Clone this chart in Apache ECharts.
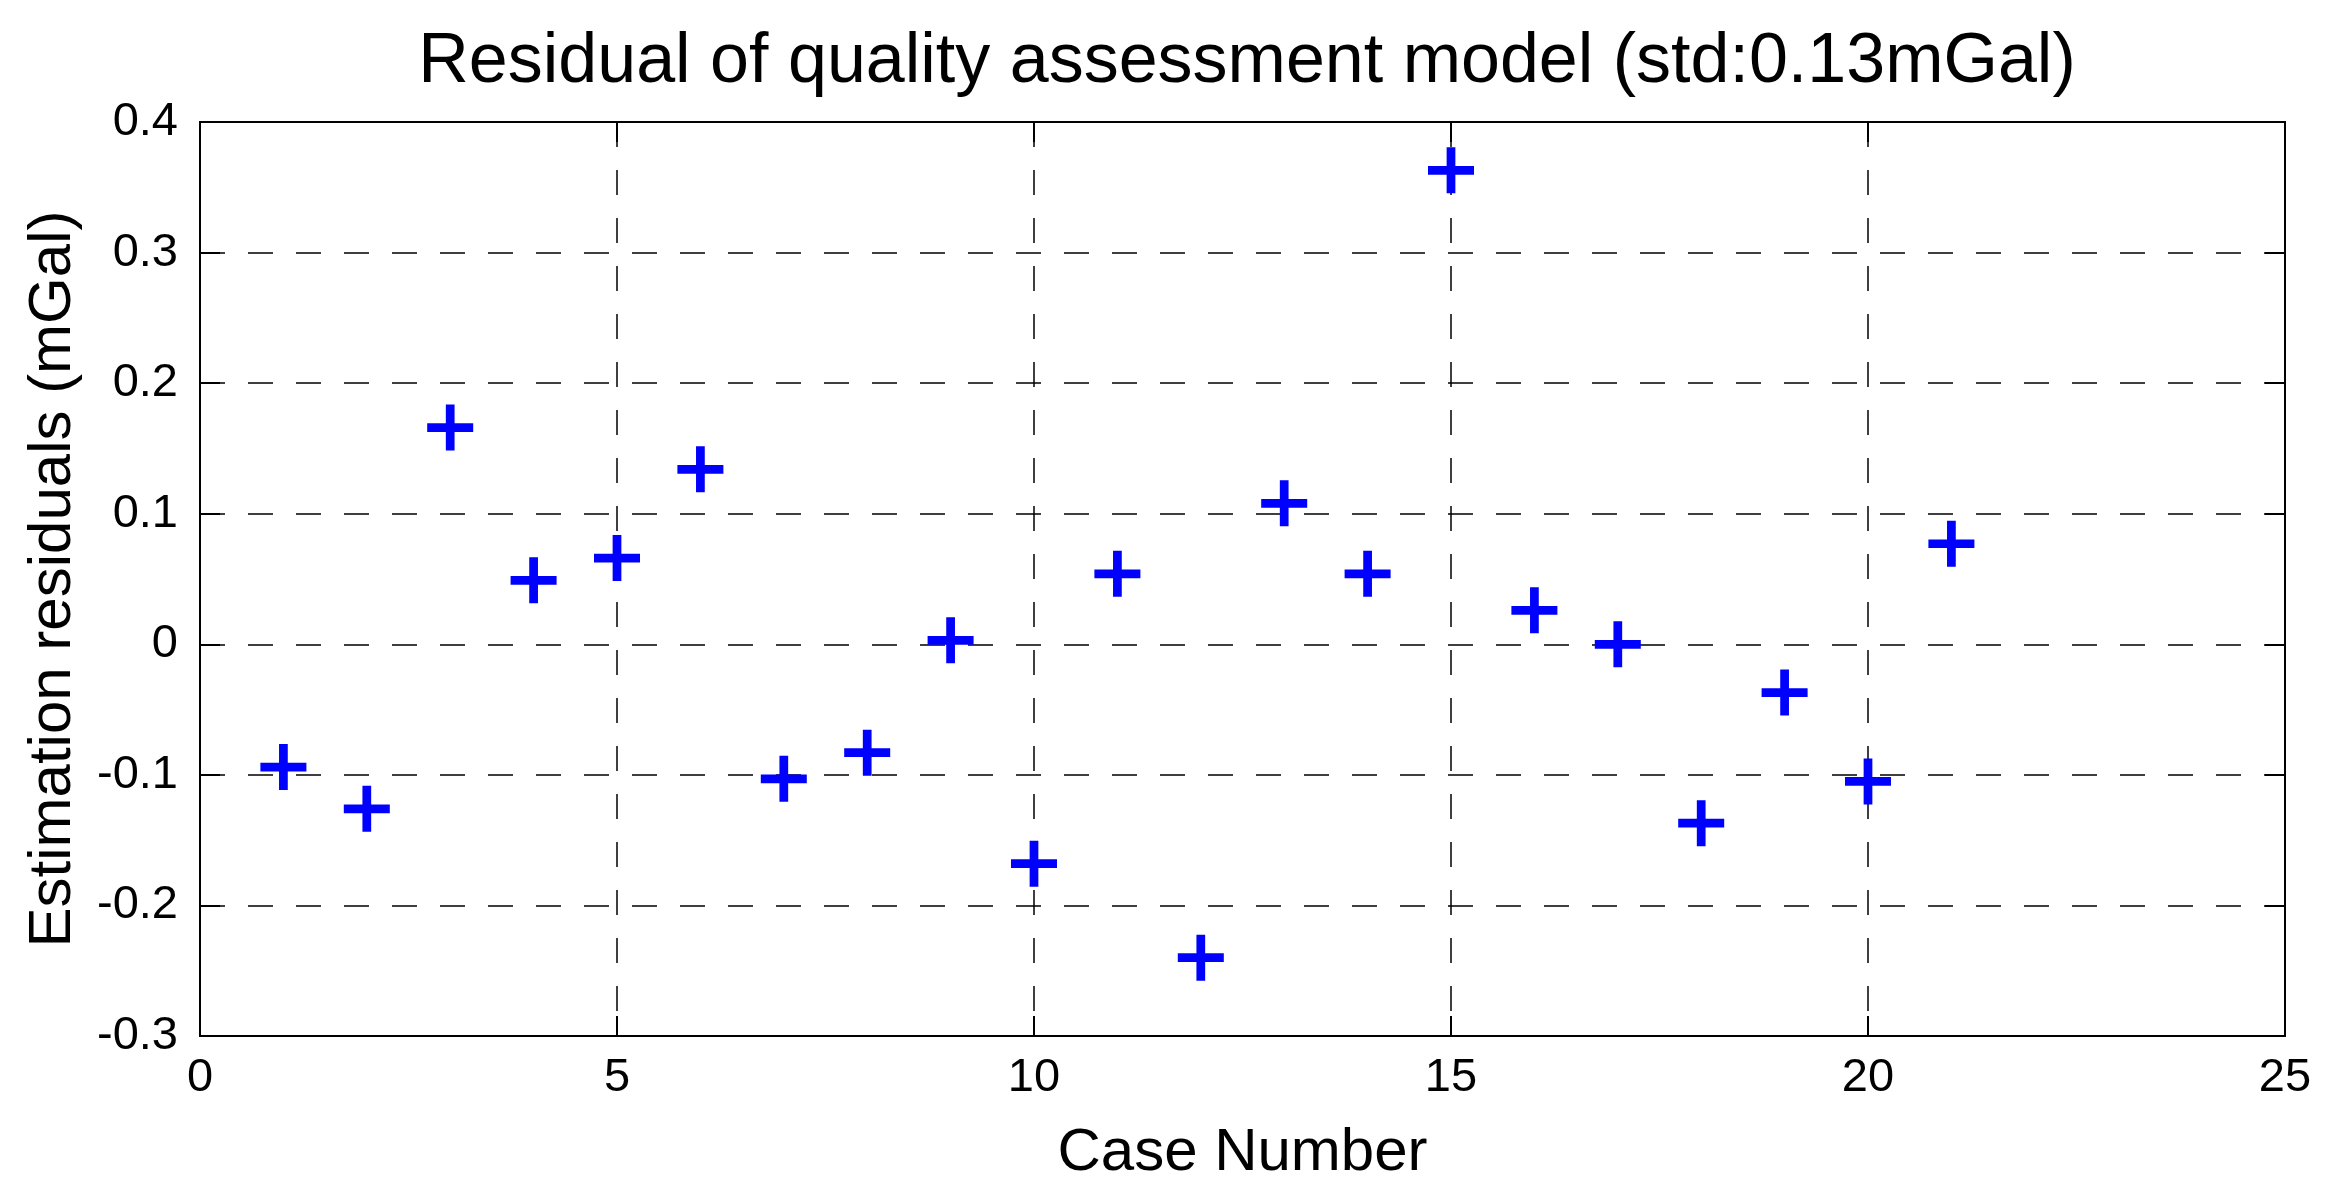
<!DOCTYPE html>
<html>
<head>
<meta charset="utf-8">
<script src="https://cdn.jsdelivr.net/npm/echarts@6/dist/echarts.min.js"></script>
<style>
html,body{margin:0;padding:0;background:#fff;}
#chart{width:2328px;height:1193px;}
</style>
</head>
<body>
<div id="chart"></div>
<script>
const titleText = 'Residual of quality assessment model (std:0.13mGal)';
const xName = 'Case Number';
const yName = 'Estimation residuals (mGal)';
const caseNumbers = [1,2,3,4,5,6,7,8,9,10,11,12,13,14,15,16,17,18,19,20,21];
const residuals = [-0.094,-0.126,0.166,0.049,0.066,0.134,-0.103,-0.083,0.003,-0.168,0.054,-0.240,0.108,0.054,0.363,0.026,0.000,-0.137,-0.037,-0.105,0.077];
const xRange = [0, 25, 5];
const yRange = [-0.3, 0.4, 0.1];

const points = caseNumbers.map((c, i) => [c, residuals[i]]);
const FONT = "'Liberation Sans', Arial, Helvetica, sans-serif";
const fmt = v => String(Math.round(v * 10) / 10);
const plusPath = 'path://M40.5,0 H59.5 V40.5 H100 V59.5 H59.5 V100 H40.5 V59.5 H0 V40.5 H40.5 Z';

const chart = echarts.init(document.getElementById('chart'), null, {renderer: 'canvas'});
const tickStyle = {show: true, inside: true, length: 20, lineStyle: {color: '#000', width: 2}};
const gridLine = {show: true, lineStyle: {color: '#000', width: 1.5, type: [25, 23]}};
const axisLine = {show: true, onZero: false, lineStyle: {color: '#000', width: 2}};
chart.setOption({
  animation: false,
  backgroundColor: '#fff',
  title: {
    text: titleText,
    left: 1242,
    top: 23,
    textAlign: 'center',
    textStyle: {fontFamily: FONT, fontSize: 70, fontWeight: 'normal', color: '#000'}
  },
  grid: {left: 200, top: 122, width: 2085, height: 914, show: true, borderColor: '#000', borderWidth: 2, backgroundColor: '#fff'},
  xAxis: [{
    type: 'value', min: xRange[0], max: xRange[1], interval: xRange[2],
    name: xName, nameLocation: 'middle', nameGap: 87,
    nameTextStyle: {fontFamily: FONT, fontSize: 60, color: '#000'},
    axisLine: axisLine,
    axisTick: tickStyle,
    axisLabel: {fontFamily: FONT, fontSize: 47, color: '#000', margin: 19, formatter: fmt},
    splitLine: gridLine
  }, {
    type: 'value', position: 'top', min: xRange[0], max: xRange[1], interval: xRange[2],
    axisLine: axisLine,
    axisTick: tickStyle, axisLabel: {show: false}, splitLine: {show: false}
  }],
  yAxis: [{
    type: 'value', min: yRange[0], max: yRange[1], interval: yRange[2],
    name: yName, nameLocation: 'middle', nameGap: 117,
    nameTextStyle: {fontFamily: FONT, fontSize: 60, color: '#000'},
    axisLine: axisLine,
    axisTick: tickStyle,
    axisLabel: {fontFamily: FONT, fontSize: 47, color: '#000', margin: 22, formatter: fmt},
    splitLine: gridLine
  }, {
    type: 'value', position: 'right', min: yRange[0], max: yRange[1], interval: yRange[2],
    axisLine: axisLine,
    axisTick: tickStyle, axisLabel: {show: false}, splitLine: {show: false}
  }],
  series: [{
    type: 'scatter',
    xAxisIndex: 0, yAxisIndex: 0,
    data: points,
    symbol: plusPath,
    symbolSize: 46,
    itemStyle: {color: '#0000FF', opacity: 1},
    emphasis: {disabled: true}
  }]
});
</script>
</body>
</html>
